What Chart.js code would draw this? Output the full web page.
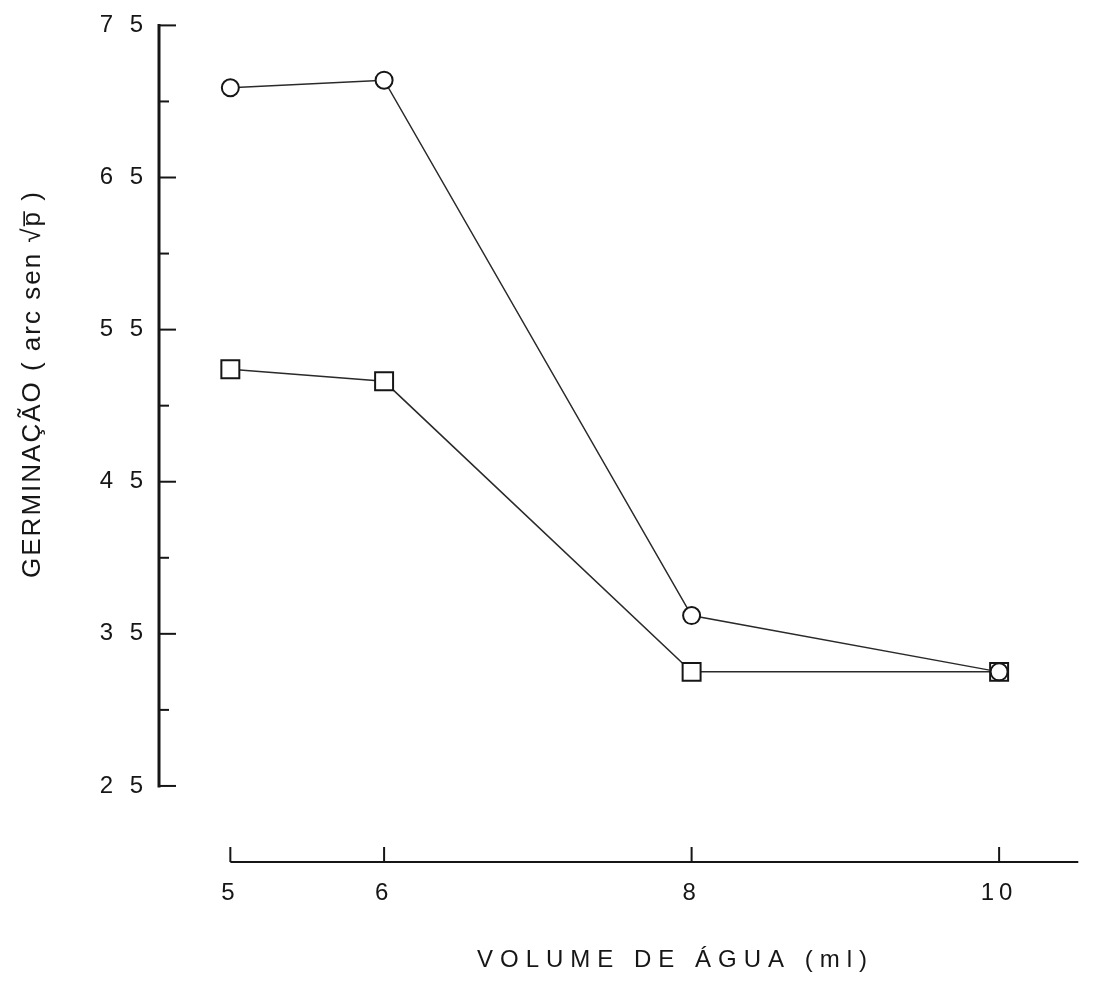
<!DOCTYPE html>
<html><head><meta charset="utf-8">
<script src="https://cdn.jsdelivr.net/npm/chart.js@4/dist/chart.umd.min.js"></script>
<style>html,body{margin:0;padding:0;background:#fff}#wrap{width:1093px;height:992px}</style>
</head><body><div id="wrap"><canvas id="c" width="1093" height="992"></canvas></div>
<script>
const volumes = [5, 6, 8, 10];
const seriesCircle = [70.9, 71.4, 36.2, 32.5];
const seriesSquare = [52.4, 51.6, 32.5, 32.5];
const xTickValues = [5, 6, 8, 10];
const yTickValues = [25, 30, 35, 40, 45, 50, 55, 60, 65, 70, 75];
const yLabelValues = [25, 35, 45, 55, 65, 75];
const xTitle = 'VOLUME DE ÁGUA (ml)';
const yTitle = 'GERMINAÇÃO ( arc sen √p\u0305 )';

const FONT = '"Liberation Sans", Arial, sans-serif';
const INK = '#161616';

const axesPlugin = {
  id: 'axesPlugin',
  beforeLayout(chart) { chart.ctx.letterSpacing = '5px'; },
  beforeDraw(chart) { chart.ctx.letterSpacing = '5px'; },
  beforeDatasetsDraw(chart) {
    const { ctx, chartArea, scales: { x, y } } = chart;
    ctx.save();
    ctx.strokeStyle = INK;
    ctx.lineCap = 'square';
    const ax = chartArea.left;
    ctx.lineWidth = 3;
    ctx.beginPath();
    ctx.moveTo(ax, y.getPixelForValue(yTickValues[0]));
    ctx.lineTo(ax, y.getPixelForValue(yTickValues[yTickValues.length - 1]));
    ctx.stroke();
    ctx.lineWidth = 2;
    ctx.lineCap = 'butt';
    yTickValues.forEach(v => {
      const py = y.getPixelForValue(v);
      const len = yLabelValues.includes(v) ? 17 : 10;
      ctx.beginPath(); ctx.moveTo(ax, py); ctx.lineTo(ax + len, py); ctx.stroke();
    });
    const by = chartArea.bottom;
    ctx.beginPath();
    ctx.moveTo(x.getPixelForValue(xTickValues[0]), by);
    ctx.lineTo(chartArea.right, by);
    ctx.stroke();
    xTickValues.forEach(v => {
      const px = x.getPixelForValue(v);
      ctx.beginPath(); ctx.moveTo(px, by); ctx.lineTo(px, by - 15); ctx.stroke();
    });
    ctx.restore();
  },
  afterDraw(chart) {
    const { ctx } = chart;
    ctx.save();
    ctx.fillStyle = INK;
    ctx.textAlign = 'center';
    ctx.textBaseline = 'middle';
    ctx.font = '24px ' + FONT;
    ctx.letterSpacing = '7px';
    ctx.fillText(xTitle, 672 + 3.5, 960);
    ctx.translate(33, 385);
    ctx.rotate(-Math.PI / 2);
    ctx.font = '26px ' + FONT;
    ctx.letterSpacing = '2px';
    ctx.fillText(yTitle, 1, 0);
    ctx.restore();
  }
};

const toPoints = arr => volumes.map((v, i) => ({ x: v, y: arr[i] }));

new Chart(document.getElementById('c'), {
  type: 'line',
  data: {
    datasets: [
      {
        data: toPoints(seriesCircle),
        pointStyle: 'circle', pointRadius: 8.5,
        borderColor: '#2a2a2a', borderWidth: 1.5,
        pointBorderColor: INK, pointBorderWidth: 2, pointBackgroundColor: '#fff',
        fill: false, tension: 0
      },
      {
        data: toPoints(seriesSquare),
        pointStyle: 'rect', pointRadius: 12.7,
        borderColor: '#2a2a2a', borderWidth: 1.5,
        pointBorderColor: INK, pointBorderWidth: 2, pointBackgroundColor: '#fff',
        fill: false, tension: 0
      }
    ]
  },
  options: {
    responsive: false,
    animation: false,
    layout: { padding: { top: 23, right: 6, left: 0, bottom: 0 } },
    plugins: { legend: { display: false }, tooltip: { enabled: false } },
    scales: {
      x: {
        type: 'linear', min: 4.536, max: 10.515,
        afterBuildTicks: s => { s.ticks = xTickValues.map(v => ({ value: v })); },
        afterFit: s => { s.height = 130; },
        grid: { display: false, drawTicks: false },
        border: { display: false },
        ticks: { padding: 17, font: { family: FONT, size: 24 }, color: INK, autoSkip: false, maxRotation: 0, callback: v => String(v) }
      },
      y: {
        type: 'linear', min: 20, max: 75,
        afterBuildTicks: s => { s.ticks = yLabelValues.map(v => ({ value: v })); },
        afterFit: s => { s.width = 159; },
        grid: { display: false, drawTicks: false },
        border: { display: false },
        ticks: { padding: 11, font: { family: FONT, size: 24 }, color: INK, autoSkip: false, callback: v => String(v).split('').join(' ') }
      }
    }
  },
  plugins: [axesPlugin]
});
</script></body></html>
